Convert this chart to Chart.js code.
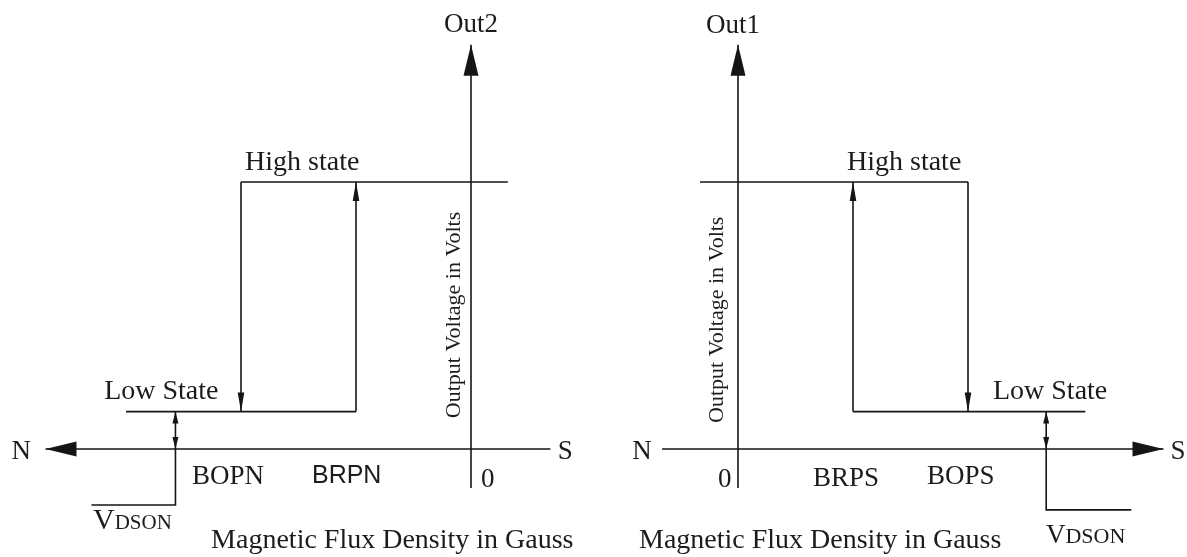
<!DOCTYPE html>
<html>
<head>
<meta charset="utf-8">
<script src="https://cdn.jsdelivr.net/npm/chart.js@4"></script>
<style>
  html, body { margin: 0; padding: 0; background: #ffffff; overflow: hidden; }
  #wrap { width: 1187px; height: 557px; }
</style>
</head>
<body>
<div id="wrap"><canvas id="c" width="1187" height="557"></canvas></div>
<script>
// ---------------- data (Gauss on x, Volts on y) ----------------
const VL = 0.7;   // low state (VDSON) in volts
const VH = 5;     // high state in volts

// Out2 (north pole side): BOPN, BRPN thresholds in Gauss
const out2Thresholds = [-200, -100];
// Out1 (south pole side): BRPS, BOPS thresholds in Gauss
const out1Thresholds = [100, 200];

// hysteresis loop segments, [gauss, volts]
const out2Low  = [[-300, VL], [-100, VL]];
const out2Rise = [[-100, VL], [-100, VH]];
const out2High = [[-200, VH], [32, VH]];
const out2Fall = [[-200, VH], [-200, VL]];

const out1High = [[-33, VH], [200, VH]];
const out1Fall = [[200, VH], [200, VL]];
const out1Low  = [[100, VL], [302, VL]];
const out1Rise = [[100, VL], [100, VH]];

// axes extents
const out2FieldAxis = [[69, 0], [-370, 0]];
const out2VoltAxis  = [[0, -0.73], [0, 7.57]];
const out1FieldAxis = [[-66, 0], [370, 0]];
const out1VoltAxis  = [[0, -0.73], [0, 7.57]];

// VDSON markers
const out2Vdson     = [[-257, 0], [-257, VL]];
const out2VdsonLead = [[-257, 0], [-257, -1.05], [-330, -1.05]];
const out1Vdson     = [[268, 0], [268, VL]];
const out1VdsonLead = [[268, 0], [268, -1.14], [342, -1.14]];

// ---------------- styling ----------------
const LINE = '#151515';
const TEXT = '#1c1c1c';
const SERIF = '"Liberation Serif", "Times New Roman", serif';
const SANS = '"Liberation Sans", Arial, sans-serif';

function seg(points, axis, arrow) {
  return {
    data: points.map(([x, y]) => ({ x, y })),
    xAxisID: axis, yAxisID: 'y',
    showLine: true, borderColor: LINE, borderWidth: 1.6,
    pointRadius: 0, pointHoverRadius: 0, fill: false, tension: 0,
    borderCapStyle: 'butt', borderJoinStyle: 'miter',
    clip: false,
    arrow: arrow || null
  };
}

const BIG = { len: 31, hw: 7.5 };
const SMALL = { len: 19, hw: 3.3 };
const TINY = { len: 12, hw: 3 };

const datasets = [
  seg(out2FieldAxis, 'xL', { end: BIG }),
  seg(out2VoltAxis, 'xL', { end: BIG }),
  seg(out2Low, 'xL'),
  seg(out2Rise, 'xL', { end: SMALL }),
  seg(out2High, 'xL'),
  seg(out2Fall, 'xL', { end: SMALL }),
  seg(out2Vdson, 'xL', { start: TINY, end: TINY }),
  seg(out2VdsonLead, 'xL'),

  seg(out1FieldAxis, 'xR', { end: BIG }),
  seg(out1VoltAxis, 'xR', { end: BIG }),
  seg(out1High, 'xR'),
  seg(out1Fall, 'xR', { end: SMALL }),
  seg(out1Low, 'xR'),
  seg(out1Rise, 'xR', { end: SMALL }),
  seg(out1Vdson, 'xR', { start: TINY, end: TINY }),
  seg(out1VdsonLead, 'xR')
];

// text labels, anchored in data units of the panel's axes
const labels = [
  { axis: 'xL', x: 0, v: 7.81, align: 'center', parts: [['Out2', 27, SERIF]] },
  { axis: 'xL', x: -196.5, v: 5.225, parts: [['High state', 28, SERIF]] },
  { axis: 'xL', x: -319, v: 0.93, parts: [['Low State', 28, SERIF]] },
  { axis: 'xL', x: -391, v: -0.19, align: 'center', parts: [['N', 27, SERIF]] },
  { axis: 'xL', x: 82, v: -0.19, align: 'center', parts: [['S', 27, SERIF]] },
  { axis: 'xL', x: out2Thresholds[0] - 42.6, v: -0.66, parts: [['BOPN', 27, SERIF]] },
  { axis: 'xL', x: out2Thresholds[1] - 38.3, v: -0.64, parts: [['BRPN', 25, SANS]] },
  { axis: 'xL', x: 8.7, v: -0.71, parts: [['0', 27, SERIF]] },
  { axis: 'xL', x: -328.7, v: -1.5, parts: [['V', 30, SERIF], ['DSON', 21, SERIF]] },
  { axis: 'xL', x: -226, v: -1.855, parts: [['Magnetic Flux Density in Gauss', 28, SERIF]] },
  { axis: 'xL', x: -9.6, v: 2.51, align: 'center', rotate: true, parts: [['Output Voltage in Volts', 22, SERIF]] },

  { axis: 'xR', x: -4.3, v: 7.79, align: 'center', parts: [['Out1', 27, SERIF]] },
  { axis: 'xR', x: 94.8, v: 5.225, parts: [['High state', 28, SERIF]] },
  { axis: 'xR', x: 221.7, v: 0.93, parts: [['Low State', 28, SERIF]] },
  { axis: 'xR', x: -83.5, v: -0.19, align: 'center', parts: [['N', 27, SERIF]] },
  { axis: 'xR', x: 382.6, v: -0.19, align: 'center', parts: [['S', 27, SERIF]] },
  { axis: 'xR', x: -17.4, v: -0.71, parts: [['0', 27, SERIF]] },
  { axis: 'xR', x: out1Thresholds[0] - 34.8, v: -0.69, parts: [['BRPS', 27, SERIF]] },
  { axis: 'xR', x: out1Thresholds[1] - 35.7, v: -0.655, parts: [['BOPS', 27, SERIF]] },
  { axis: 'xR', x: 267.8, v: -1.76, parts: [['V', 27, SERIF], ['DSON', 22, SERIF]] },
  { axis: 'xR', x: -86.1, v: -1.855, parts: [['Magnetic Flux Density in Gauss', 28, SERIF]] },
  { axis: 'xR', x: -13, v: 2.42, align: 'center', rotate: true, parts: [['Output Voltage in Volts', 22, SERIF]] }
];

// ---------------- plugins ----------------
function drawHead(ctx, tip, from, spec) {
  const dx = tip.x - from.x, dy = tip.y - from.y;
  const L = Math.hypot(dx, dy) || 1;
  const ux = dx / L, uy = dy / L;
  const bx = tip.x - ux * spec.len, by = tip.y - uy * spec.len;
  const nx = -uy, ny = ux;
  ctx.beginPath();
  ctx.moveTo(tip.x, tip.y);
  ctx.lineTo(bx + nx * spec.hw, by + ny * spec.hw);
  ctx.lineTo(bx - nx * spec.hw, by - ny * spec.hw);
  ctx.closePath();
  ctx.fill();
}

const arrowPlugin = {
  id: 'arrows',
  afterDatasetsDraw(chart) {
    const ctx = chart.ctx;
    ctx.save();
    ctx.fillStyle = LINE;
    chart.data.datasets.forEach((ds, i) => {
      if (!ds.arrow) return;
      const pts = chart.getDatasetMeta(i).data;
      const n = pts.length;
      if (ds.arrow.end) drawHead(ctx, pts[n - 1], pts[n - 2], ds.arrow.end);
      if (ds.arrow.start) drawHead(ctx, pts[0], pts[1], ds.arrow.start);
    });
    ctx.restore();
  }
};

const labelPlugin = {
  id: 'labels',
  afterDraw(chart) {
    const ctx = chart.ctx;
    ctx.save();
    ctx.fillStyle = TEXT;
    ctx.textBaseline = 'alphabetic';
    labels.forEach(l => {
      const px = chart.scales[l.axis].getPixelForValue(l.x);
      const py = chart.scales.y.getPixelForValue(l.v);
      let total = 0;
      l.parts.forEach(([t, s, f]) => { ctx.font = s + 'px ' + f; total += ctx.measureText(t).width; });
      ctx.save();
      ctx.translate(px, py);
      if (l.rotate) ctx.rotate(-Math.PI / 2);
      let x = l.align === 'center' ? -total / 2 : 0;
      ctx.textAlign = 'left';
      l.parts.forEach(([t, s, f]) => {
        ctx.font = s + 'px ' + f;
        ctx.fillText(t, x, 0);
        x += ctx.measureText(t).width;
      });
      ctx.restore();
    });
    ctx.restore();
  }
};

// ---------------- chart ----------------
// pixel scale: 1.15 px per gauss, 53.4 px per volt; origins chosen to match layout
const W = 1187, H = 557;
const PX_PER_G = 1.15, PX_PER_V = 53.4;
const ORIGIN_L = 471, ORIGIN_R = 738, ORIGIN_Y = 449;

new Chart(document.getElementById('c'), {
  type: 'scatter',
  data: { datasets },
  options: {
    responsive: false,
    animation: false,
    events: [],
    layout: { padding: 0 },
    plugins: { legend: { display: false }, tooltip: { enabled: false }, title: { display: false } },
    scales: {
      xL: { type: 'linear', display: false, min: -ORIGIN_L / PX_PER_G, max: (W - ORIGIN_L) / PX_PER_G },
      xR: { type: 'linear', display: false, min: -ORIGIN_R / PX_PER_G, max: (W - ORIGIN_R) / PX_PER_G },
      y:  { type: 'linear', display: false, min: -(H - ORIGIN_Y) / PX_PER_V, max: ORIGIN_Y / PX_PER_V }
    }
  },
  plugins: [arrowPlugin, labelPlugin]
});
</script>
</body>
</html>
